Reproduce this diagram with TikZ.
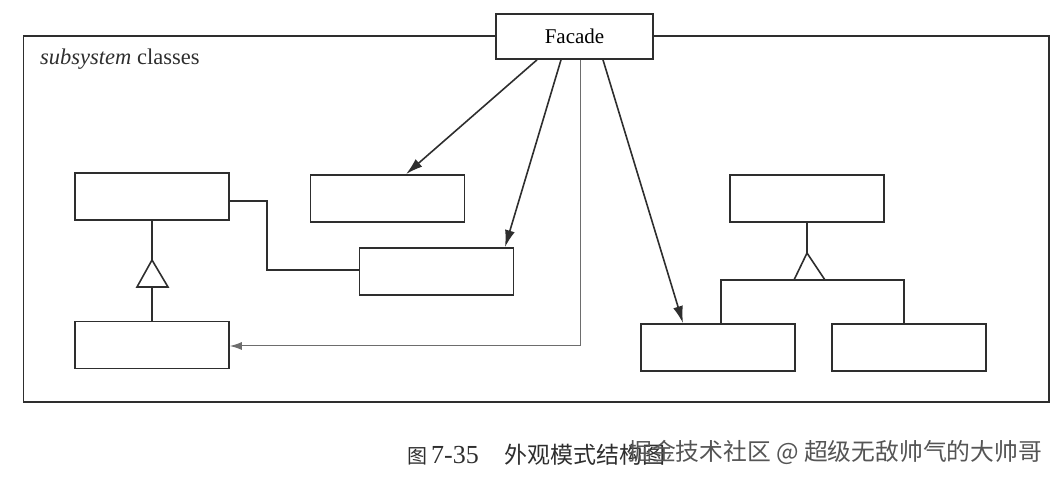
\documentclass[tikz,border=0pt]{standalone}
\usepackage{fontspec}
\setmainfont{Liberation Serif}
\newfontfamily\cjk{Noto Sans CJK SC}
\usetikzlibrary{arrows.meta,calc}
\definecolor{ln}{HTML}{2E2E2E}
\definecolor{wm}{HTML}{555555}
\tikzset{
  cls/.style={draw=ln, line width=1.7pt, fill=white, minimum width=154pt, minimum height=47pt, inner sep=0pt},
  conn/.style={draw=ln, line width=1.6pt},
  assoc/.style={conn, -{Latex[length=17pt,width=10pt]}},
  thin/.style={draw=ln!70, line width=1pt, -{Latex[length=12pt,width=8pt]}},
  tri/.style={draw=ln, line width=1.6pt, fill=white},
}
\begin{document}
\begin{tikzpicture}[x=1pt,y=-1pt]
\useasboundingbox (0,0) rectangle (1058,478);
% frame
\draw[ln, line width=1.7pt] (23.5,36) rectangle (1049,402);
\node[anchor=base west, inner sep=0pt, font=\fontsize{22.5}{26}\selectfont, text=ln] (lbl) at (40,65) {\textit{subsystem} classes};
% facade
\node[cls, minimum width=157pt, minimum height=45pt, font=\fontsize{21}{24}\selectfont] (fac) at (574.5,36.5) {Facade};
% classes
\node[cls] (A) at (152,196.5) {};
\node[cls] (B) at (152,345) {};
\node[cls] (D) at (387.5,198.5) {};
\node[cls] (C) at (436.5,271.5) {};
\node[cls] (E) at (807,198.5) {};
\node[cls] (F) at (718,347.5) {};
\node[cls] (G) at (909,347.5) {};
% facade associations
\draw[assoc] ([xshift=-37.5pt]fac.south) -- ([xshift=18.5pt]D.north);
\draw[assoc] ([xshift=-13.5pt]fac.south) -- ([xshift=68.5pt]C.north);
\draw[assoc] ([xshift=28.5pt]fac.south) -- ([xshift=-35pt]F.north);
\draw[thin] ([xshift=5.5pt]fac.south) |- ([yshift=-1pt]B.east);
% A -- C
\draw[conn] ([yshift=-4.5pt]A.east) -| (267,270) -- (C.west |- 0,270);
% left inheritance
\coordinate (t1) at (152,287);
\draw[conn] (A.south) -- (152,260);
\draw[conn] (t1) -- (B.north);
\draw[tri] (137,287) -- (152,260) -- (168,287) -- cycle;
% right inheritance
\coordinate (t2) at (809.5,280);
\draw[conn] (E.south) -- (807,253);
\draw[conn] ([xshift=3pt]F.north) |- (t2) -| ([xshift=-5pt]G.north);
\draw[tri] (794,280) -- (807,253) -- (825,280) -- cycle;
% caption
\node[anchor=west, inner sep=0pt, text=ln] (cap) at (407,455) {{\cjk\fontsize{20}{24}\selectfont 图}\hspace{4pt}{\fontsize{26}{28}\selectfont 7-35}\hspace{26pt}{\cjk\fontsize{23}{26}\selectfont 外观模式结构图}};
\node[anchor=west, inner sep=0pt, text=wm, font=\cjk\fontsize{23.8}{26}\selectfont] (wmk) at (628,452) {掘金技术社区 @ 超级无敌帅气的大帅哥};
\end{tikzpicture}
\end{document}
